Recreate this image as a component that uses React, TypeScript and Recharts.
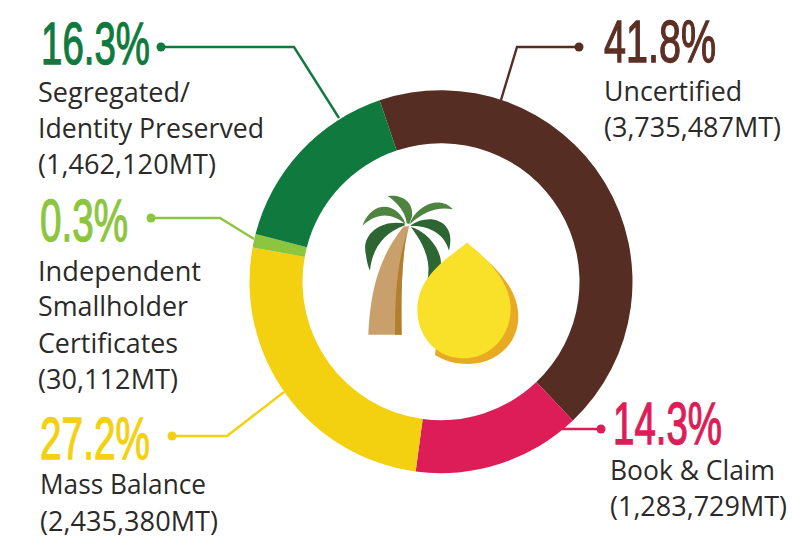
import React from "react"
import { PieChart, Pie, Cell, Customized } from "recharts"

const WIDTH = 792
const HEIGHT = 536

const categories = ["Uncertified", "Book & Claim", "Mass Balance", "Independent Smallholder Certificates", "Segregated/Identity Preserved"]
// share of the ring as drawn in the picture, read off the arcs (not quite the printed percentages)
const drawnShares = [43.1, 14.2, 25.75, 1.14, 15.8]
const colors = ["#552d23", "#dd1d57", "#f3d110", "#8cc63f", "#107a3e"]

const data = categories.map((name, i) => ({ name, value: drawnShares[i] }))

const BIG_FONT = "'Liberation Sans Narrow', 'Liberation Sans', sans-serif"
const BODY_FONT = "'Open Sans', 'Noto Sans', sans-serif"
const TEXT_COLOR = "#2b2a29"

// [text, x, baseline, width, color]
const bigLabels: [string, number, number, number, string][] = [
  ["16.3%", 41, 64, 109, "#107a3e"],
  ["0.3%", 40, 241, 88, "#8cc63f"],
  ["27.2%", 40, 459, 110, "#f3d110"],
  ["41.8%", 604, 62, 112, "#5c2f24"],
  ["14.3%", 613, 444, 109, "#dd1d57"],
]

const bodyLabels: [string, number, number, number][] = [
  ["Segregated/", 38, 102, 152],
  ["Identity Preserved", 38, 138, 226],
  ["(1,462,120MT)", 38, 174, 178],
  ["Independent", 38, 281, 163],
  ["Smallholder", 38, 316, 150],
  ["Certificates", 38, 353, 140],
  ["(30,112MT)", 38, 389, 140],
  ["Mass Balance", 40, 494, 166],
  ["(2,435,380MT)", 40, 531, 178],
  ["Uncertified", 604, 101, 138],
  ["(3,735,487MT)", 604, 137, 177],
  ["Book & Claim", 610, 480, 165],
  ["(1,283,729MT)", 610, 516, 177],
]

const leaders: [string, string, number, number, number][] = [
  ["161,47 294,47 339,118", "#107a3e", 161, 47, 4.5],
  ["151,218 220,218 254,239", "#8cc63f", 151, 218, 4.5],
  ["172,436 227,436 284,392", "#f3d110", 172, 436, 4.5],
  ["579,47 517,47 501,100", "#552d23", 579, 47, 4.5],
  ["601,429 562,429", "#dd1d57", 601, 429, 4.5],
]

function Icon() {
  return (
    <g transform="translate(340 180) scale(0.3333)">
      <path d="M85 464 C90 350 110 240 190 140 L208 138 C190 190 182 300 185 464 Z" fill="#c9a06c" />
      <path d="M165 464 C165 350 170 240 208 138 C190 190 182 300 185 464 Z" fill="#b17f2d" />
      <path d="M192 130 C120 118 62 165 78 225 C80 245 85 262 90 272 C95 215 125 160 195 136 Z" fill="#2e6633" />
      <path d="M212 136 C265 98 352 118 327 212 C315 165 270 135 212 138 Z" fill="#2e6633" />
      <path d="M212 140 C275 160 318 230 298 275 L262 304 C275 240 250 190 212 140 Z" fill="#2e6633" />
      <path d="M197 133 C175 70 100 55 67 137 C110 100 150 95 197 133 Z" fill="#4f8340" />
      <path d="M143 48 C185 42 222 65 216 110 L208 132 L200 130 C198 100 175 70 143 48 Z" fill="#4f8340" />
      <path d="M210 132 C222 85 295 40 339 88 C295 78 250 95 210 132 Z" fill="#4f8340" />
      <path d="M380 188 C440 240 535 310 535 410 C535 490 470 552 385 552 C340 552 310 540 285 525 L300 400 Z" fill="#e9aa23" />
      <path d="M380 188 C340 225 232 280 232 390 C232 470 290 535 370 535 C450 535 512 470 512 385 C512 300 430 225 380 188 Z" fill="#f8e128" />
    </g>
  )
}

function Annotations() {
  return (
    <g>
      <Icon />
      {leaders.map(([points, color, cx, cy, r]) => (
        <g key={points}>
          <polyline points={points} fill="none" stroke={color} strokeWidth={2.4} />
          <circle cx={cx} cy={cy} r={r} fill={color} />
        </g>
      ))}
      {bigLabels.map(([text, x, y, width, color]) => (
        <text
          key={text}
          x={x}
          y={y}
          fontFamily={BIG_FONT}
          fontSize={59}
          fill={color}
          stroke={color}
          strokeWidth={1.3}
          textLength={width}
          lengthAdjust="spacingAndGlyphs"
        >
          {text}
        </text>
      ))}
      {bodyLabels.map(([text, x, y, width]) => (
        <text key={text} x={x} y={y} fontFamily={BODY_FONT} fontSize={27} fill={TEXT_COLOR} textLength={width} lengthAdjust="spacingAndGlyphs">
          {text}
        </text>
      ))}
    </g>
  )
}

export default function App() {
  return (
    <div style={{ position: "absolute", left: 0, top: 0, width: WIDTH, height: HEIGHT, background: "#fff" }}>
      <PieChart width={WIDTH} height={HEIGHT} margin={{ top: 0, right: 0, bottom: 0, left: 0 }}>
        <Pie
          data={data}
          dataKey="value"
          cx={441}
          cy={281.7}
          innerRadius={138.5}
          outerRadius={191.5}
          startAngle={108.7}
          endAngle={-251.3}
          stroke="none"
          isAnimationActive={false}
        >
          {data.map((d, i) => (
            <Cell key={d.name} fill={colors[i]} />
          ))}
        </Pie>
        <Customized component={Annotations} />
      </PieChart>
    </div>
  )
}
